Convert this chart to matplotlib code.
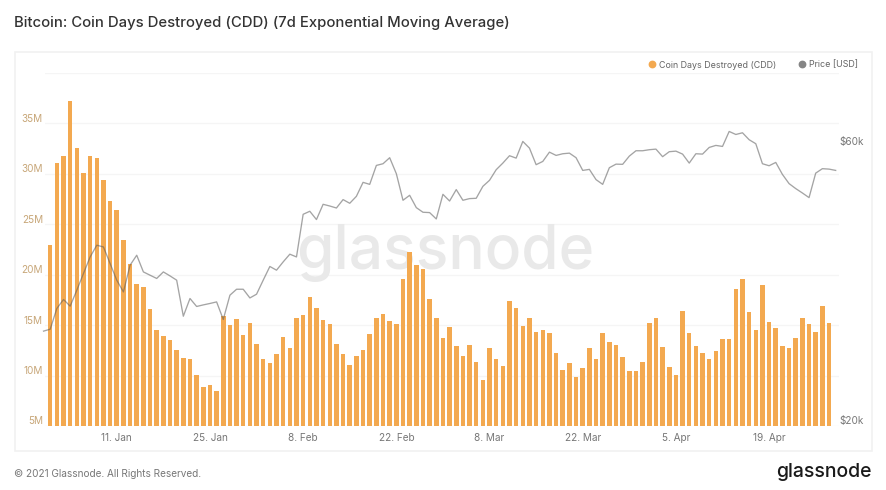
import pandas as pd
import matplotlib.pyplot as plt
from matplotlib.lines import Line2D
from matplotlib.patches import Rectangle
from matplotlib.transforms import ScaledTranslation

plt.rcParams['font.family'] = ['Inter', 'DejaVu Sans']

W, H = 886, 490

# Coin days destroyed in millions, 1 Jan to 28 Apr 2021
cdd = [
    22.96, 31.06, 31.8, 37.2, 32.6, 30.1, 31.8, 31.55, 29.4, 27.3, 26.4, 23.45, 21.1, 19.05, 18.75,
    16.6, 14.5, 13.9, 13.5, 12.5, 11.7, 11.6, 10.05, 8.9, 9.07, 8.5, 15.9, 15.05, 15.6, 14.0,
    15.2, 13.1, 11.6, 11.2, 12.1, 13.8, 12.7, 15.7, 16.0, 17.8, 16.7, 15.5, 15.1, 13.1, 12.1,
    11.05, 11.9, 12.5, 14.1, 15.7, 16.1, 15.4, 15.1, 19.6, 22.3, 21.0, 20.6, 17.6, 15.7, 13.7,
    14.8, 12.9, 11.9, 13.07, 11.3, 9.56, 12.7, 11.6, 10.95, 17.4, 16.7, 14.9, 15.7, 14.3, 14.55,
    14.2, 12.2, 10.6, 11.2, 9.86, 10.75, 12.77, 11.6, 14.26, 13.3, 13.07, 11.8, 10.46, 10.46, 11.3,
    15.2, 15.7, 12.84, 10.85, 10.1, 16.4, 14.2, 12.9, 12.2, 11.6, 12.47, 13.66, 13.66, 18.56, 19.6,
    16.3, 14.5, 19.0, 15.35, 14.7, 12.9, 12.74, 13.76, 15.7, 15.15, 14.3, 16.9, 15.2,
]

# BTC price in thousands of USD, 31 Dec 2020 to 29 Apr 2021
price = [
    29.03, 29.25, 31.73, 32.87, 32.02, 34.09, 36.40, 38.85, 40.68, 40.40, 37.86, 35.46, 33.86, 37.61, 39.11,
    36.63, 36.16, 35.70, 36.63, 36.06, 35.46, 30.78, 33.00, 31.98, 32.18, 32.36, 32.56, 30.39, 33.43, 34.22,
    34.22, 33.07, 33.56, 35.46, 37.42, 36.88, 38.10, 39.27, 38.85, 45.93, 46.48, 44.99, 47.77, 47.45, 47.08,
    48.66, 47.96, 49.29, 52.07, 51.66, 55.65, 56.02, 57.36, 53.87, 48.53, 49.49, 47.15, 46.30, 46.24, 45.10,
    49.68, 48.39, 50.61, 48.53, 48.85, 48.91, 51.26, 52.49, 54.72, 56.16, 57.81, 57.27, 61.15, 59.56, 55.81,
    56.53, 58.63, 57.88, 58.26, 58.40, 57.36, 54.57, 54.79, 52.63, 51.66, 55.15, 55.93, 55.89, 57.72, 58.95,
    58.95, 59.19, 59.33, 57.59, 58.73, 58.86, 58.18, 56.16, 58.26, 58.18, 59.72, 60.20, 59.96, 63.59, 62.84,
    63.26, 61.56, 60.60, 56.02, 55.58, 56.31, 53.72, 51.81, 50.81, 49.94, 49.04, 53.99, 54.94, 54.85, 54.57,
]

cdd_ticks = [5, 10, 15, 20, 25, 30, 35, 40]
cdd_labels = ['5M', '10M', '15M', '20M', '25M', '30M', '35M', '']
price_ticks = [20000, 60000]
price_labels = ['$20k', '$60k']
date_ticks = ['2021-01-11', '2021-01-25', '2021-02-08', '2021-02-22', '2021-03-08', '2021-03-22', '2021-04-05', '2021-04-19']
date_labels = ['11. Jan', '25. Jan', '8. Feb', '22. Feb', '8. Mar', '22. Mar', '5. Apr', '19. Apr']

cdd_dates = pd.date_range('2021-01-01', periods=len(cdd), freq='D')
price_dates = pd.date_range('2020-12-31', periods=len(price), freq='D')

ORANGE = '#f3a950'
GRID = '#f5f5f5'

fig = plt.figure(figsize=(W / 100, H / 100), dpi=100, facecolor='white')

# card behind the chart
fig.add_artist(Rectangle((14.5 / W, 1 - 451 / H), 857.5 / W, 399 / H, transform=fig.transFigure,
                         facecolor='white', edgecolor='#f1f1f1', linewidth=1.2, zorder=-1))

ax = fig.add_axes([45 / W, 1 - 426 / H, 794 / W, 353 / H])
ax.set_facecolor('none')
ax.bar(cdd_dates, cdd, width=0.68, color=ORANGE, zorder=2)
ax.set_ylim(5, 40)
ax.set_xlim(pd.Timestamp('2021-01-01') - pd.Timedelta(days=0.78), pd.Timestamp('2021-01-01') + pd.Timedelta(days=118.5))
ax.set_yticks(cdd_ticks)
ax.set_yticklabels(cdd_labels, fontsize=7.2, color='#c8a779')
ax.set_xticks(pd.to_datetime(date_ticks))
ax.set_xticklabels(date_labels, fontsize=7.2, color='#777777')
ax.tick_params(axis='both', length=0)
ax.tick_params(axis='x', pad=5)
ax.tick_params(axis='y', pad=1.5)
ax.grid(axis='y', color=GRID, linewidth=1)
ax.set_axisbelow(True)
for s in ax.spines.values():
    s.set_visible(False)

ax2 = ax.twinx()
ax2.plot(price_dates, [p * 1000 for p in price], color='#5a5a5a', alpha=0.55, linewidth=0.95, clip_on=False, zorder=3)
ax2.set_yscale('log')
ax2.set_ylim(20000, 80000)
ax2.set_yticks(price_ticks)
ax2.set_yticklabels(price_labels, fontsize=7.2, color='#777777')
ax2.minorticks_off()
ax2.tick_params(axis='y', length=0, pad=0.5)
for s in ax2.spines.values():
    s.set_visible(False)

# y labels sit a little above their gridlines
up = ScaledTranslation(0, 4 / 72, fig.dpi_scale_trans)
for lab in ax.get_yticklabels() + ax2.get_yticklabels():
    lab.set_transform(lab.get_transform() + up)

# watermark under the bars
ax.text(445 / W, 1 - 253 / H, 'glassnode', fontsize=43.5, fontweight='medium', color='#e9e9e9', ha='center', va='center',
        transform=fig.transFigure, zorder=1)

handles = [
    Line2D([], [], linestyle='none', marker='o', markersize=4.6, color=ORANGE),
    Line2D([], [], linestyle='none', marker='o', markersize=4.6, color='#858585'),
]
fig.legend(handles, ['Coin Days Destroyed (CDD)', 'Price [USD]'], loc='center right',
           bbox_to_anchor=(858 / W, 1 - 65 / H), ncol=2, frameon=False, fontsize=6.4,
           labelcolor='#666666', handlelength=1.0, handletextpad=0.25, columnspacing=2.45, borderpad=0, borderaxespad=0)

fig.text(14 / W, 1 - 23 / H, 'Bitcoin: Coin Days Destroyed (CDD) (7d Exponential Moving Average)',
         fontsize=10.68, fontweight='medium', color='#333333', va='center')
fig.text(14 / W, 1 - 474 / H, '© 2021 Glassnode. All Rights Reserved.', fontsize=7.2, color='#777777', va='center')
fig.text(872 / W, 1 - 472 / H, 'glassnode', fontsize=14, color='#1a1a1a', ha='right', va='center',
         fontweight='medium')

fig.savefig('out.png', dpi=100)
